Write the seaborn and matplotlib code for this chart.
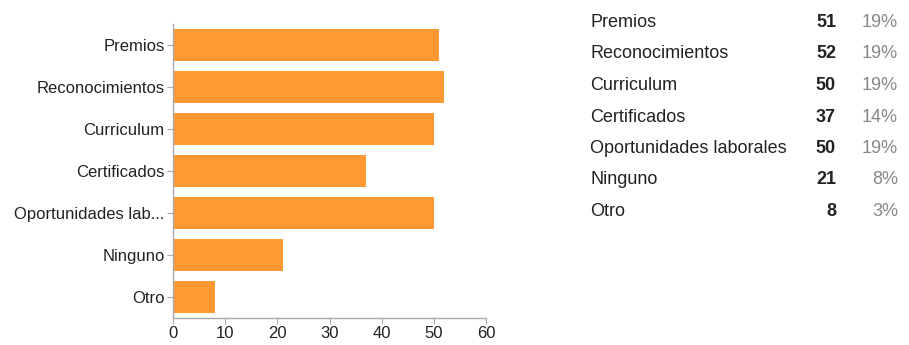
import matplotlib
matplotlib.use("Agg")
import matplotlib.pyplot as plt
import seaborn as sns
import pandas as pd

# Survey answers and counts
categories = ["Premios", "Reconocimientos", "Curriculum", "Certificados",
              "Oportunidades laborales", "Ninguno", "Otro"]
axis_labels = ["Premios", "Reconocimientos", "Curriculum", "Certificados",
               "Oportunidades lab...", "Ninguno", "Otro"]
counts = [51, 52, 50, 37, 50, 21, 8]
x_ticks = [0, 10, 20, 30, 40, 50, 60]

df = pd.DataFrame({"label": axis_labels, "count": counts})

sns.set_theme(style="white")
plt.rcParams["font.family"] = ["Liberation Sans", "DejaVu Sans"]

W, H = 909, 345
fig = plt.figure(figsize=(W / 100, H / 100), dpi=100)
ax = fig.add_axes([173 / W, 1 - 318 / H, (486 - 173) / W, (318 - 24) / H])

sns.barplot(data=df, x="count", y="label", orient="h", color="#ff9933",
            saturation=1, width=0.78, ax=ax, edgecolor="none")

ax.set_xlim(0, 60)
ax.set_ylim(6.5, -0.5)
ax.set_xticks(x_ticks)
ax.set_xlabel("")
ax.set_ylabel("")
for side in ("top", "right"):
    ax.spines[side].set_visible(False)
for side in ("left", "bottom"):
    ax.spines[side].set_color("#aaaaaa")
    ax.spines[side].set_linewidth(1.0)
ax.tick_params(axis="both", which="both", length=4, width=0.8, color="#aaaaaa",
               labelsize=12, labelcolor="#222222", pad=2, direction="out")
ax.tick_params(axis="y", left=True)
ax.tick_params(axis="x", bottom=True)

# Summary table on the right
total = sum(counts)
row_y0, row_step = 22.5, 31.5
for i, (name, c) in enumerate(zip(categories, counts)):
    y = 1 - (row_y0 + i * row_step) / H
    pct = f"{round(100 * c / total)}%"
    fig.text(590 / W, y, name, ha="left", va="center", fontsize=13, color="#222222")
    fig.text(836 / W, y, str(c), ha="right", va="center", fontsize=13,
             fontweight="bold", color="#222222")
    fig.text(898 / W, y, pct, ha="right", va="center", fontsize=13, color="#888888")

fig.savefig("out.png", dpi=100, facecolor="white")
